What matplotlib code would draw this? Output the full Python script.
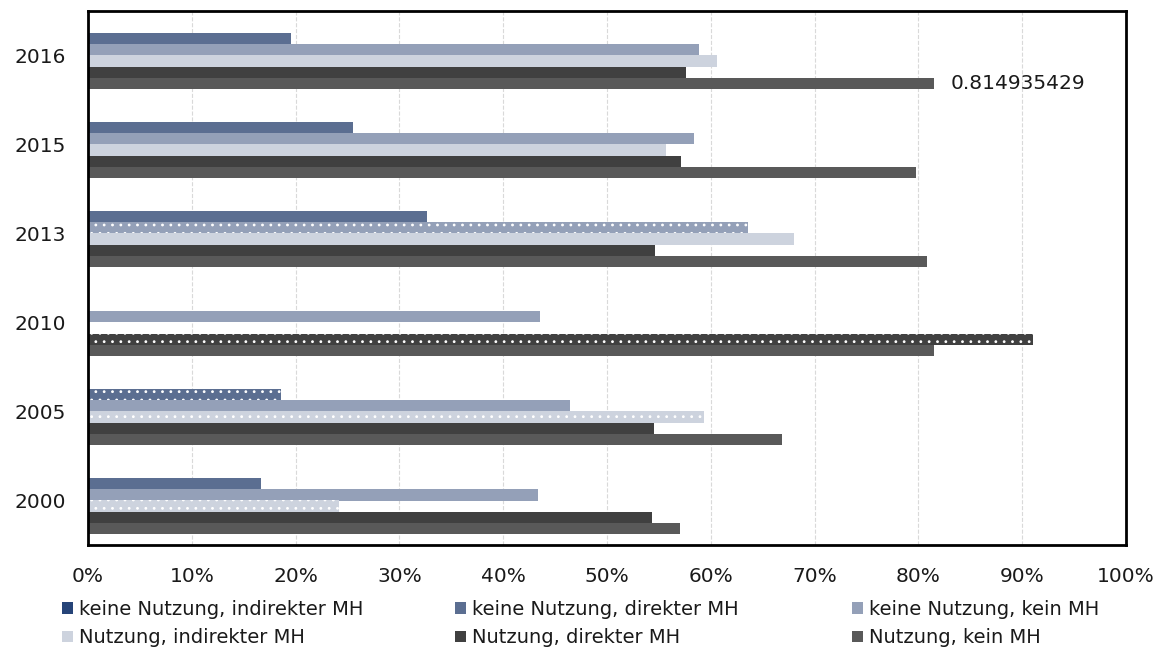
import matplotlib
matplotlib.use('Agg')
import matplotlib.pyplot as plt
from matplotlib.patches import Patch
from matplotlib.ticker import PercentFormatter
import numpy as np

plt.rcParams['font.family'] = ['DejaVu Sans']
plt.rcParams['hatch.linewidth'] = 0.8

# Jahre (oben -> unten)
years = ['2016', '2015', '2013', '2010', '2005', '2000']

series_names = [
    'keine Nutzung, indirekter MH',
    'keine Nutzung, direkter MH',
    'keine Nutzung, kein MH',
    'Nutzung, indirekter MH',
    'Nutzung, direkter MH',
    'Nutzung, kein MH',
]

keine_indirekt = [0.0, 0.0, 0.0, 0.0, 0.0, 0.0]
keine_direkt = [0.196, 0.255, 0.327, 0.0, 0.186, 0.167]
keine_kein = [0.589, 0.584, 0.636, 0.435, 0.464, 0.434]
nutzung_indirekt = [0.606, 0.557, 0.680, 0.0, 0.593, 0.242]
nutzung_direkt = [0.576, 0.571, 0.546, 0.910, 0.545, 0.543]
nutzung_kein = [0.814935429, 0.798, 0.808, 0.815, 0.669, 0.570]

values = [keine_indirekt, keine_direkt, keine_kein,
          nutzung_indirekt, nutzung_direkt, nutzung_kein]

colors = ['#264478', '#5b6e91', '#94a0b8', '#cdd3de', '#404040', '#595959']

# gepunktete Balken (Serie, Jahr)
dotted = {(2, '2013'), (4, '2010'), (1, '2005'), (3, '2005'), (3, '2000')}

fig = plt.figure(figsize=(11.63, 6.52), dpi=100)
ax = fig.add_axes([88 / 1163, 1 - 545 / 652, (1126 - 88) / 1163, (545 - 11) / 652])

y = np.arange(len(years))
h = 0.126
for i, (name, vals) in enumerate(zip(series_names, values)):
    pos = y + (i - 2.5) * h
    bars = ax.barh(pos, vals, height=h, color=colors[i], linewidth=0, zorder=2)
    for bar, yr in zip(bars, years):
        if (i, yr) in dotted:
            bar.set_hatch('..')
            bar.set_edgecolor('white')
            bar.set_linewidth(0)

# Datenbeschriftung
ax.annotate(f'{nutzung_kein[0]:.9f}', xy=(nutzung_kein[0], y[0] + 2.5 * h),
            xytext=(12, 0), textcoords='offset points', va='center', ha='left',
            fontsize=14.5, color='#1a1a1a')

ax.set_xlim(0, 1)
ax.set_ylim(len(years) - 0.5, -0.5)
ax.set_yticks(y)
ax.set_yticklabels(years)
ax.set_xticks(np.arange(0, 1.01, 0.1))
ax.xaxis.set_major_formatter(PercentFormatter(1.0, decimals=0))
ax.tick_params(axis='both', length=0, labelsize=14.5, colors='#1a1a1a')
ax.tick_params(axis='x', pad=16)
ax.tick_params(axis='y', pad=16)

ax.grid(axis='x', color='#d9d9d9', linestyle='--', linewidth=0.8, zorder=0)
ax.set_axisbelow(True)
for s in ax.spines.values():
    s.set_linewidth(2)
    s.set_color('black')

# Legende in drei Spalten
col_x = [62 / 1163, 455 / 1163, 852 / 1163]
for c in range(3):
    handles = [Patch(facecolor=colors[c], edgecolor='none'),
               Patch(facecolor=colors[c + 3], edgecolor='none')]
    labels = [series_names[c], series_names[c + 3]]
    fig.legend(handles, labels, loc='center left',
               bbox_to_anchor=(col_x[c], 1 - 623.5 / 652),
               frameon=False, fontsize=14, borderpad=0, borderaxespad=0,
               handlelength=0.57, handleheight=0.57, handletextpad=0.3,
               labelspacing=0.5, labelcolor='#1a1a1a')

fig.savefig('out.png', dpi=100)
